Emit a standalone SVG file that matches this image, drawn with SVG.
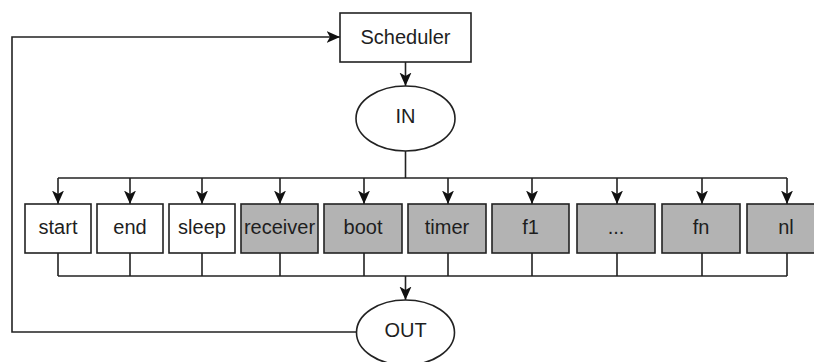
<svg xmlns="http://www.w3.org/2000/svg" width="814" height="362" viewBox="0 0 814 362">
  <style>
    .box { fill: #ffffff; stroke: #222222; stroke-width: 1.6; }
    .gray { fill: #b3b3b3; }
    .lbl { font-family: "Liberation Sans", Arial, Helvetica, sans-serif; font-size: 20px; fill: #1e1e1e; text-anchor: middle; }
    .wire { fill: none; stroke: #222222; stroke-width: 1.6; }
    .arr { marker-end: url(#head); }
  </style>
  <defs>
    <marker id="head" markerUnits="userSpaceOnUse" markerWidth="15" markerHeight="13" refX="13.5" refY="6" orient="auto">
      <path d="M0,0 L13.5,6 L0,12 L3.5,6 z" fill="#111111"/>
    </marker>
  </defs>

  <rect width="814" height="362" fill="#ffffff"/>

  <!-- connectors -->
  <g id="connectors">
    <!-- feedback loop OUT -> Scheduler -->
    <path class="wire arr" d="M357,332 H12 V37 H340"/>
    <!-- Scheduler -> IN -->
    <path class="wire arr" d="M405.5,62 V86"/>
    <!-- IN -> fan-out bus -->
    <path class="wire" d="M405.5,151 V178"/>
    <path class="wire" d="M58,178 H787"/>
    <path class="wire arr" d="M58,178 V204"/>
    <path class="wire arr" d="M130,178 V204"/>
    <path class="wire arr" d="M202,178 V204"/>
    <path class="wire arr" d="M280,178 V204"/>
    <path class="wire arr" d="M364,178 V204"/>
    <path class="wire arr" d="M448,178 V204"/>
    <path class="wire arr" d="M532,178 V204"/>
    <path class="wire arr" d="M617,178 V204"/>
    <path class="wire arr" d="M702,178 V204"/>
    <path class="wire arr" d="M787,178 V204"/>
    <!-- fan-in bus -> OUT -->
    <path class="wire" d="M58,253 V276 M130,253 V276 M202,253 V276 M280,253 V276 M364,253 V276 M448,253 V276 M532,253 V276 M617,253 V276 M702,253 V276 M787,253 V276"/>
    <path class="wire" d="M58,276 H787"/>
    <path class="wire arr" d="M405.5,276 V300"/>
  </g>

  <g id="scheduler">
    <rect class="box" x="340" y="13" width="131" height="49"/>
    <text class="lbl" x="405.5" y="44">Scheduler</text>
  </g>

  <g id="in">
    <ellipse class="box" cx="405.5" cy="118.5" rx="49.5" ry="32.5"/>
    <text class="lbl" x="405.5" y="123">IN</text>
  </g>

  <g id="start">
    <rect class="box" x="25" y="204" width="66" height="49"/>
    <text class="lbl" x="58" y="234">start</text>
  </g>
  <g id="end">
    <rect class="box" x="97" y="204" width="66" height="49"/>
    <text class="lbl" x="130" y="234">end</text>
  </g>
  <g id="sleep">
    <rect class="box" x="169" y="204" width="66" height="49"/>
    <text class="lbl" x="202" y="234">sleep</text>
  </g>
  <g id="receiver">
    <rect class="box gray" x="241" y="204" width="77" height="49"/>
    <text class="lbl" x="279.5" y="234">receiver</text>
  </g>
  <g id="boot">
    <rect class="box gray" x="324" y="204" width="78" height="49"/>
    <text class="lbl" x="363" y="234">boot</text>
  </g>
  <g id="timer">
    <rect class="box gray" x="408" y="204" width="78" height="49"/>
    <text class="lbl" x="447" y="234">timer</text>
  </g>
  <g id="f1">
    <rect class="box gray" x="492" y="204" width="77" height="49"/>
    <text class="lbl" x="530.5" y="234">f1</text>
  </g>
  <g id="ellipsis">
    <rect class="box gray" x="577" y="204" width="78" height="49"/>
    <text class="lbl" x="616" y="234">...</text>
  </g>
  <g id="fn">
    <rect class="box gray" x="662" y="204" width="78" height="49"/>
    <text class="lbl" x="701" y="234">fn</text>
  </g>
  <g id="nl">
    <rect class="box gray" x="747" y="204" width="80" height="49"/>
    <text class="lbl" x="786" y="234">nl</text>
  </g>

  <g id="out">
    <ellipse class="box" cx="405.5" cy="332.5" rx="49" ry="32.5"/>
    <text class="lbl" x="405.5" y="337">OUT</text>
  </g>
</svg>
